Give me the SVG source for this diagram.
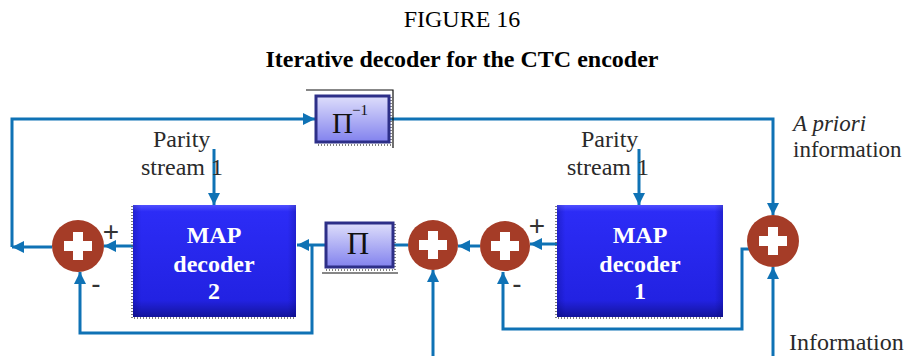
<svg xmlns="http://www.w3.org/2000/svg" width="912" height="356" viewBox="0 0 912 356">
  <defs>
    <marker id="arrow" markerUnits="userSpaceOnUse" markerWidth="12" markerHeight="12" viewBox="0 0 10 10" refX="10" refY="5" orient="auto">
      <path d="M0,0 L10,5 L0,10 z" fill="#0f72b5"/>
    </marker>
    <linearGradient id="mapFill" x1="0" y1="0" x2="0" y2="1">
      <stop offset="0" stop-color="#5050ff"/>
      <stop offset="0.06" stop-color="#2c2cf6"/>
      <stop offset="0.85" stop-color="#2222e2"/>
      <stop offset="1" stop-color="#14149c"/>
    </linearGradient>
    <linearGradient id="mapSide" x1="0" y1="0" x2="1" y2="0">
      <stop offset="0" stop-color="#000060" stop-opacity="0.25"/>
      <stop offset="0.05" stop-color="#000060" stop-opacity="0"/>
      <stop offset="0.95" stop-color="#000060" stop-opacity="0"/>
      <stop offset="1" stop-color="#000060" stop-opacity="0.25"/>
    </linearGradient>
    <linearGradient id="permFill" x1="0" y1="0" x2="0" y2="1">
      <stop offset="0" stop-color="#dedefb"/>
      <stop offset="1" stop-color="#8282ee"/>
    </linearGradient>
    <g id="plus">
      <rect x="-14" y="-5" width="28" height="10" fill="#ffffff"/>
      <rect x="-5" y="-14" width="10" height="28" fill="#ffffff"/>
    </g>
  </defs>
  <style>
    .wire { fill: none; stroke: #0f72b5; stroke-width: 3; }
    .head { marker-end: url(#arrow); }
    .sum { fill: #a53c27; }
    .map { stroke: none; }
    .perm { stroke: #2d2f88; stroke-width: 3; fill: url(#permFill); }
    .dots { fill: none; stroke: #555; stroke-width: 1.5; stroke-dasharray: 1 2; }
    .thin { fill: none; stroke: #111; stroke-width: 1.2; }
    .lbl { font-family: "Liberation Serif", "Times New Roman", serif; font-size: 24px; fill: #2a2a2a; }
    .side { font-family: "Liberation Serif", "Times New Roman", serif; font-size: 23px; fill: #2a2a2a; }
    .greek { font-family: "Liberation Serif", "Times New Roman", serif; fill: #111; }
    .maptxt { font-family: "Liberation Serif", "Times New Roman", serif; font-size: 24px; font-weight: bold; fill: #ffffff; text-anchor: middle; }
    .sign { font-family: "Liberation Sans", Arial, sans-serif; font-size: 28px; fill: #333; text-anchor: middle; }
    .title { font-family: "Liberation Serif", "Times New Roman", serif; font-size: 24px; fill: #000; text-anchor: middle; }
  </style>

  <rect width="912" height="356" fill="#ffffff"/>

  <!-- headings -->
  <text class="title" x="462" y="27">FIGURE 16</text>
  <text class="title" x="462" y="67" font-weight="bold">Iterative decoder for the CTC encoder</text>

  <!-- connectors -->
  <g id="connectors">
    <path class="wire head" d="M133,246 H104"/>
    <path class="wire head" d="M52,247 H12"/>
    <path class="wire head" d="M12,247 V119 H315"/>
    <path class="wire head" d="M389,119 H773 V215"/>
    <path class="wire head" d="M214,149 V205"/>
    <path class="wire head" d="M639,149 V205"/>
    <path class="wire head" d="M325,245 H297"/>
    <path class="wire head" d="M312,245 V333 H80 V272"/>
    <path class="wire" d="M393,245 H408"/>
    <path class="wire head" d="M480,246 H458"/>
    <path class="wire head" d="M557,244 H530"/>
    <path class="wire head" d="M433,356 V270"/>
    <path class="wire head" d="M749,249 H742 V329 H503 V272"/>
    <path class="wire head" d="M773,356 V267"/>
  </g>

  <!-- inverse interleaver -->
  <g id="deinterleaver">
    <path class="thin" d="M306,90 H393 V148"/>
    <path class="dots" d="M391,97 V145 H317"/>
    <rect class="perm" x="316" y="96" width="73" height="46"/>
    <text class="greek" x="332" y="133" font-size="29">Π</text>
    <text class="greek" x="352" y="115" font-size="15">−1</text>
  </g>

  <!-- interleaver -->
  <g id="interleaver">
    <path class="thin" d="M322,273 H398"/>
    <path class="dots" d="M395,224 V270 H326"/>
    <rect class="perm" x="326" y="223" width="67" height="44"/>
    <text class="greek" x="358" y="254" font-size="31" text-anchor="middle">Π</text>
  </g>

  <!-- MAP decoder 2 -->
  <g id="map-decoder-2">
    <rect class="map" x="133" y="205" width="163" height="112" fill="url(#mapFill)"/>
    <rect class="map" x="133" y="205" width="163" height="112" fill="url(#mapSide)"/>
    <path class="dots" d="M132,206 V318 H296"/>
    <text class="maptxt" x="214" y="243">MAP</text>
    <text class="maptxt" x="214" y="272">decoder</text>
    <text class="maptxt" x="214" y="299">2</text>
  </g>

  <!-- MAP decoder 1 -->
  <g id="map-decoder-1">
    <rect class="map" x="557" y="205" width="166" height="112" fill="url(#mapFill)"/>
    <rect class="map" x="557" y="205" width="166" height="112" fill="url(#mapSide)"/>
    <path class="dots" d="M556,206 V318 H723"/>
    <text class="maptxt" x="640" y="243">MAP</text>
    <text class="maptxt" x="640" y="272">decoder</text>
    <text class="maptxt" x="640" y="299">1</text>
  </g>

  <!-- adders -->
  <g id="adder-left">
    <circle class="sum" cx="78" cy="246" r="26"/>
    <use href="#plus" x="78" y="246"/>
    <text class="sign" x="111" y="241">+</text>
    <text class="sign" x="96" y="293">-</text>
  </g>
  <g id="adder-mid">
    <circle class="sum" cx="433" cy="245" r="25"/>
    <use href="#plus" x="433" y="245"/>
  </g>
  <g id="adder-right">
    <circle class="sum" cx="505" cy="246" r="25"/>
    <use href="#plus" x="505" y="246"/>
    <text class="sign" x="537" y="235">+</text>
    <text class="sign" x="517" y="293">-</text>
  </g>
  <g id="adder-out">
    <circle class="sum" cx="773" cy="241" r="26"/>
    <use href="#plus" x="773" y="241"/>
  </g>

  <!-- labels -->
  <g id="labels">
    <text class="lbl" x="153" y="147">Parity</text>
    <text class="lbl" x="141" y="175">stream 1</text>
    <text class="lbl" x="581" y="147">Parity</text>
    <text class="lbl" x="567" y="175">stream 1</text>
    <text class="side" x="793" y="131" font-style="italic">A priori</text>
    <text class="side" x="793" y="157">information</text>
    <text class="lbl" x="789" y="350">Information</text>
  </g>
</svg>
